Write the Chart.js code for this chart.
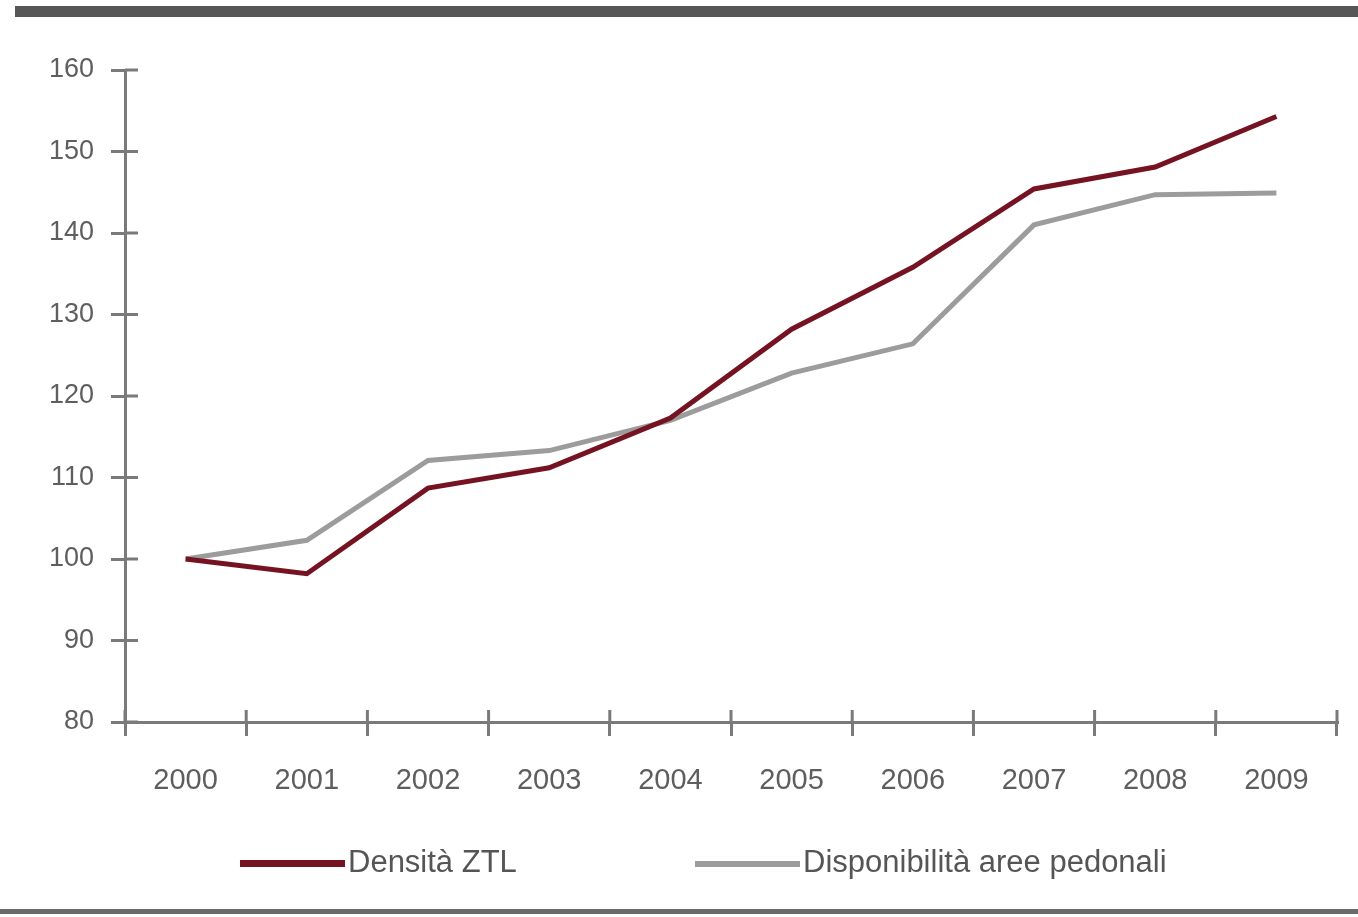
<!DOCTYPE html>
<html>
<head>
<meta charset="utf-8">
<script src="https://cdn.jsdelivr.net/npm/chart.js@4.4.1/dist/chart.umd.min.js"></script>
<style>
  html, body { margin: 0; padding: 0; background: #fff; }
  .wrap { position: relative; width: 1358px; height: 917px; overflow: hidden; }
  .topbar { position: absolute; left: 15px; top: 6px; width: 1343px; height: 11px; background: #575757; }
  .bottomline { position: absolute; left: 0; top: 909px; width: 1358px; height: 5px; background: #6a6a6a; }
  #legend { position: absolute; top: 842px; left: 0; width: 1358px; height: 40px;
    font-family: "Liberation Sans", Arial, sans-serif; font-size: 31px; color: #555; }
  .item { position: absolute; top: 0; height: 40px; line-height: 40px; white-space: nowrap; }
  .swatch { display: inline-block; width: 105px; vertical-align: middle; margin-right: 3px; }
</style>
</head>
<body>
<div class="wrap">
  <div class="topbar"></div>
  <canvas id="myChart" width="1358" height="917"></canvas>
  <div id="legend"></div>
  <div class="bottomline"></div>
</div>
<script>
// data
const years = ["2000", "2001", "2002", "2003", "2004", "2005", "2006", "2007", "2008", "2009"];
const densitaZTL = [100, 98.2, 108.7, 111.2, 117.3, 128.2, 135.8, 145.4, 148.1, 154.3];
const areePedonali = [100, 102.3, 112.1, 113.3, 117, 122.8, 126.4, 141, 144.7, 144.9];
const seriesNames = ["Densità ZTL", "Disponibilità aree pedonali"];
const seriesColors = ["#761322", "#9c9c9c"];

const axisColor = "#7a7a7a";

// tick marks that cross the axis line (Chart.js only draws the outer half)
const innerTicks = {
  id: "innerTicks",
  afterDraw(chart) {
    const ctx = chart.ctx;
    const area = chart.chartArea;
    const x = chart.scales.x;
    const y = chart.scales.y;
    ctx.save();
    ctx.strokeStyle = axisColor;
    ctx.lineWidth = 3;
    ctx.beginPath();
    y.ticks.forEach((t, i) => {
      const py = y.getPixelForTick(i);
      ctx.moveTo(area.left, py);
      ctx.lineTo(area.left + 13, py);
    });
    const half = (x.getPixelForTick(1) - x.getPixelForTick(0)) / 2;
    for (let i = 0; i <= years.length; i++) {
      const px = x.getPixelForTick(0) - half + i * half * 2;
      ctx.moveTo(px, area.bottom);
      ctx.lineTo(px, area.bottom - 12);
    }
    ctx.stroke();
    ctx.restore();
  }
};

const chart = new Chart(document.getElementById("myChart").getContext("2d"), {
  type: "line",
  data: {
    labels: years,
    datasets: [
      {
        label: seriesNames[0],
        data: densitaZTL,
        borderColor: seriesColors[0],
        borderWidth: 5,
        pointRadius: 0,
        tension: 0
      },
      {
        label: seriesNames[1],
        data: areePedonali,
        borderColor: seriesColors[1],
        borderWidth: 5,
        pointRadius: 0,
        tension: 0
      }
    ]
  },
  options: {
    responsive: false,
    animation: false,
    layout: { padding: { top: 70, right: 21, bottom: 0, left: 0 } },
    plugins: {
      legend: { display: false },
      tooltip: { enabled: false }
    },
    scales: {
      x: {
        offset: true,
        grid: {
          offset: true,
          drawOnChartArea: false,
          color: axisColor,
          lineWidth: 3,
          tickLength: 14
        },
        border: { color: axisColor, width: 3 },
        ticks: {
          color: "#5e5e5e",
          padding: 28,
          maxRotation: 0,
          font: { family: "Liberation Sans", size: 29 }
        },
        afterFit(scale) { scale.height = 195; }
      },
      y: {
        min: 80,
        max: 160,
        grid: {
          drawOnChartArea: false,
          color: axisColor,
          lineWidth: 3,
          tickLength: 14
        },
        border: { color: axisColor, width: 3 },
        ticks: {
          stepSize: 10,
          color: "#5e5e5e",
          padding: 17,
          font: { family: "Liberation Sans", size: 27 }
        },
        afterFit(scale) { scale.width = 125; }
      }
    }
  },
  plugins: [innerTicks]
});

// legend drawn from the datasets
const legendPos = [240, 695];
const legendWidth = [7, 6];
const legendEl = document.getElementById("legend");
chart.data.datasets.forEach((ds, i) => {
  const item = document.createElement("div");
  item.className = "item";
  item.style.left = legendPos[i] + "px";
  const sw = document.createElement("span");
  sw.className = "swatch";
  sw.style.height = legendWidth[i] + "px";
  sw.style.background = ds.borderColor;
  item.appendChild(sw);
  item.appendChild(document.createTextNode(ds.label));
  legendEl.appendChild(item);
});
</script>
</body>
</html>
